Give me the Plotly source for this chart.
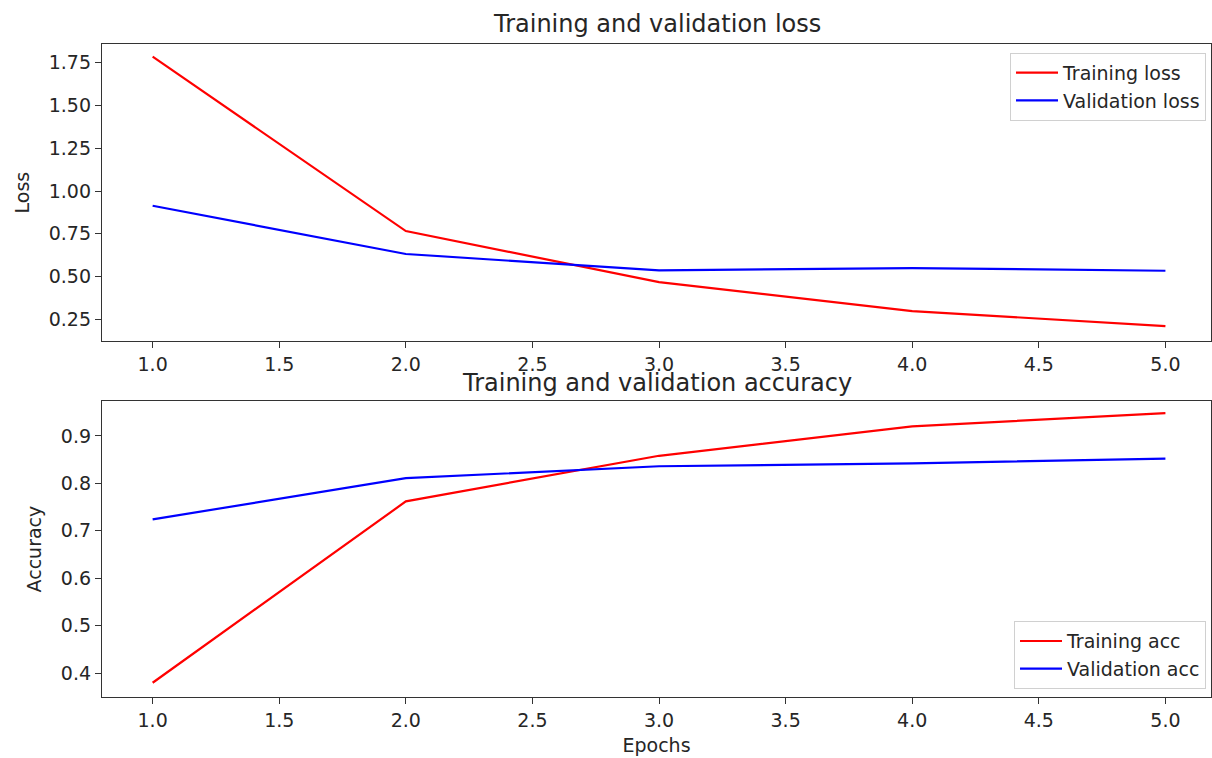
import plotly.graph_objects as go

epochs = [1, 2, 3, 4, 5]
train_loss = [1.785, 0.766, 0.468, 0.298, 0.211]
val_loss = [0.914, 0.632, 0.536, 0.550, 0.534]
train_acc = [0.380, 0.762, 0.858, 0.920, 0.948]
val_acc = [0.724, 0.811, 0.836, 0.842, 0.852]

loss_ticks = [0.25, 0.50, 0.75, 1.00, 1.25, 1.50, 1.75]
acc_ticks = [0.4, 0.5, 0.6, 0.7, 0.8, 0.9]
x_ticks = [1.0, 1.5, 2.0, 2.5, 3.0, 3.5, 4.0, 4.5, 5.0]

FONT = "DejaVu Sans"
TXT = "#262626"
FS = 19
TFS = 24

fig = go.Figure()
fig.add_trace(go.Scatter(x=epochs, y=train_loss, mode="lines", name="Training loss",
                         line=dict(color="red", width=2.2), xaxis="x", yaxis="y", legend="legend"))
fig.add_trace(go.Scatter(x=epochs, y=val_loss, mode="lines", name="Validation loss",
                         line=dict(color="blue", width=2.2), xaxis="x", yaxis="y", legend="legend"))
fig.add_trace(go.Scatter(x=epochs, y=train_acc, mode="lines", name="Training acc",
                         line=dict(color="red", width=2.2), xaxis="x2", yaxis="y2", legend="legend2"))
fig.add_trace(go.Scatter(x=epochs, y=val_acc, mode="lines", name="Validation acc",
                         line=dict(color="blue", width=2.2), xaxis="x2", yaxis="y2", legend="legend2"))

axis_common = dict(showgrid=False, zeroline=False, showline=True, mirror=True,
                   linecolor="#333333", linewidth=1.3, ticks="outside", ticklen=6,
                   tickwidth=1.3, tickcolor="#333333",
                   tickfont=dict(family=FONT, size=FS, color=TXT))

fig.update_layout(
    width=1212, height=758,
    paper_bgcolor="white", plot_bgcolor="white",
    margin=dict(l=102, r=1, t=44, b=61),
    font=dict(family=FONT, color=TXT),
    xaxis=dict(axis_common, domain=[0, 1], anchor="y", range=[0.8, 5.18],
               tickvals=x_ticks, ticktext=[f"{v:.1f}" for v in x_ticks]),
    yaxis=dict(axis_common, domain=[0.545, 1], anchor="x", range=[0.123, 1.859],
               tickvals=loss_ticks, ticktext=[f"{v:.2f}" for v in loss_ticks],
               title=dict(text="Loss", font=dict(family=FONT, size=FS, color=TXT), standoff=14)),
    xaxis2=dict(axis_common, domain=[0, 1], anchor="y2", range=[0.8, 5.18],
                tickvals=x_ticks, ticktext=[f"{v:.1f}" for v in x_ticks],
                title=dict(text="Epochs", font=dict(family=FONT, size=FS, color=TXT), standoff=8)),
    yaxis2=dict(axis_common, domain=[0, 0.453], anchor="x2", range=[0.350, 0.973],
                tickvals=acc_ticks, ticktext=[f"{v:.1f}" for v in acc_ticks],
                title=dict(text="Accuracy", font=dict(family=FONT, size=FS, color=TXT), standoff=14)),
    legend=dict(x=0.9955, y=0.9865, xanchor="right", yanchor="top", itemwidth=42,
                bgcolor="rgba(255,255,255,0.8)", bordercolor="#d0d0d0", borderwidth=1,
                font=dict(family=FONT, size=FS, color=TXT), tracegroupgap=0),
    legend2=dict(x=0.9955, y=0.012, xanchor="right", yanchor="bottom", itemwidth=42,
                 bgcolor="rgba(255,255,255,0.8)", bordercolor="#d0d0d0", borderwidth=1,
                 font=dict(family=FONT, size=FS, color=TXT), tracegroupgap=0),
    showlegend=True,
    annotations=[
        dict(text="Training and validation loss", x=0.5, y=1, xref="paper", yref="paper",
             xanchor="center", yanchor="bottom", yshift=4, showarrow=False,
             font=dict(family=FONT, size=TFS, color=TXT)),
        dict(text="Training and validation accuracy", x=0.5, y=0.453, xref="paper", yref="paper",
             xanchor="center", yanchor="bottom", yshift=2, showarrow=False,
             font=dict(family=FONT, size=TFS, color=TXT)),
    ],
)

fig.write_html("out.html", config={"displayModeBar": False},
               post_script="document.body.style.margin='0';document.body.style.overflow='hidden';")
